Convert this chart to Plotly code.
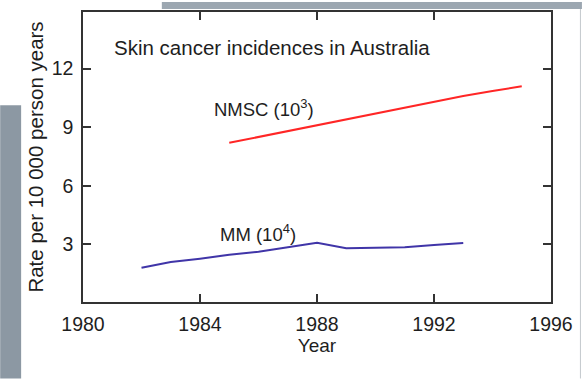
import plotly.graph_objects as go

# Data
nmsc_years = [1985, 1986, 1987, 1988, 1989, 1990, 1991, 1992, 1993, 1994, 1995]
nmsc_rate = [8.2, 8.5, 8.8, 9.1, 9.4, 9.7, 10.0, 10.3, 10.6, 10.85, 11.1]

mm_years = [1982, 1983, 1984, 1985, 1986, 1987, 1988, 1989, 1990, 1991, 1992, 1993]
mm_rate = [1.8, 2.1, 2.27, 2.47, 2.62, 2.85, 3.08, 2.8, 2.82, 2.85, 2.97, 3.07]

x_ticks = [1980, 1984, 1988, 1992, 1996]
y_ticks = [3, 6, 9, 12]

FONT = "Liberation Sans, Arial, Helvetica, sans-serif"
TXT = "#1e1e1e"

fig = go.Figure()
fig.add_trace(go.Scatter(x=nmsc_years, y=nmsc_rate, mode="lines",
                         line=dict(color="#ff2626", width=2), showlegend=False))
fig.add_trace(go.Scatter(x=mm_years, y=mm_rate, mode="lines",
                         line=dict(color="#4035a8", width=2), showlegend=False))

W, H = 583, 379
L, R, T, B = 83, 31, 10, 77
pw, ph = W - L - R, H - T - B

def px(xp):
    return (xp - L) / pw

def py(yp):
    return (H - B - yp) / ph

shapes = [
    dict(type="rect", xref="paper", yref="paper", x0=px(0), x1=px(21), y0=py(104), y1=py(379),
         fillcolor="#8c98a3", line=dict(width=0), layer="above"),
    dict(type="rect", xref="paper", yref="paper", x0=px(162), x1=px(583), y0=py(0), y1=py(7),
         fillcolor="#9ca7b1", line=dict(width=0), layer="above"),
    dict(type="line", xref="paper", yref="paper", x0=px(581.5), x1=px(581.5), y0=py(7), y1=py(379),
         line=dict(color="#c3c8cd", width=1), layer="above"),
]

annotations = [
    dict(x=1980.99, y=13.1, xref="x", yref="y", text="Skin cancer incidences in Australia",
         showarrow=False, xanchor="left", yanchor="middle",
         font=dict(family=FONT, size=20.5, color=TXT)),
    dict(x=1986.2, y=9.96, xref="x", yref="y", text="NMSC (10<sup>3</sup>)",
         showarrow=False, xanchor="center", yanchor="middle",
         font=dict(family=FONT, size=18.5, color=TXT)),
    dict(x=1985.97, y=3.6, xref="x", yref="y", text="MM (10<sup>4</sup>)",
         showarrow=False, xanchor="center", yanchor="middle",
         font=dict(family=FONT, size=18.5, color=TXT)),
]

axis_common = dict(showgrid=False, zeroline=False, showline=True, linecolor="#333333",
                   linewidth=1.5, ticks="inside", ticklen=8, tickwidth=1.5, tickcolor="#333333",
                   mirror="ticks", tickfont=dict(family=FONT, size=19.5, color=TXT))

fig.update_layout(
    width=W, height=H,
    margin=dict(l=L, r=R, t=T, b=B),
    paper_bgcolor="white", plot_bgcolor="white",
    xaxis=dict(range=[1980, 1996], tickvals=x_ticks, ticktext=[str(v) for v in x_ticks],
               ticklabelstandoff=4,
               title=dict(text="Year", font=dict(family=FONT, size=19, color=TXT), standoff=5),
               **axis_common),
    yaxis=dict(range=[0.05, 14.9], tickvals=y_ticks, ticktext=[str(v) for v in y_ticks],
               ticklabelstandoff=4,
               title=dict(text="Rate per 10 000 person years",
                          font=dict(family=FONT, size=20.5, color=TXT), standoff=2),
               **axis_common),
    shapes=shapes,
    annotations=annotations,
)

fig.write_html("out.html", config={"displayModeBar": False},
               post_script="document.body.style.margin='0px';document.body.style.padding='0px';"
                           "document.body.style.overflow='hidden';")
